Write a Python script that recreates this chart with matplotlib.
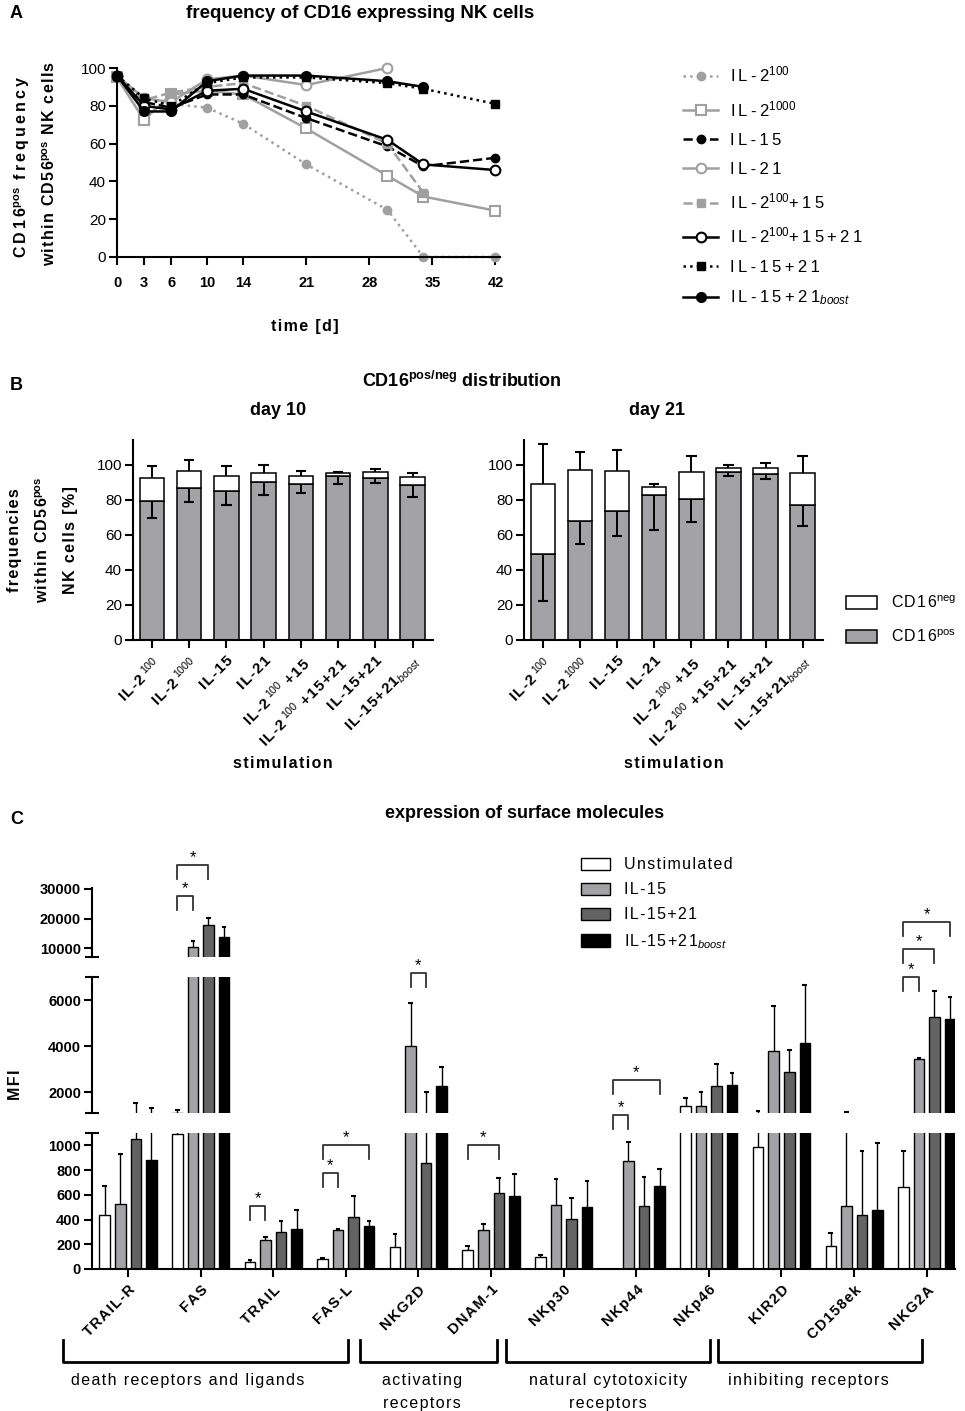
import matplotlib
matplotlib.use('Agg')
import matplotlib.pyplot as plt
import numpy as np
from matplotlib.patches import Patch

plt.rcParams['font.family'] = ['Liberation Sans', 'DejaVu Sans']
plt.rcParams['mathtext.fontset'] = 'custom'
plt.rcParams['mathtext.rm'] = 'Liberation Sans'
plt.rcParams['mathtext.it'] = 'Liberation Sans:italic'
plt.rcParams['mathtext.bf'] = 'Liberation Sans:bold'

nan = np.nan
# ---------------- Panel A data ----------------
days = [0, 3, 6, 10, 14, 21, 30, 34, 42]
il2_100 = [96, 84, 81, 79, 70.5, 49, 25, 0, 0]
il2_1000 = [95, 72.5, 86, 88, 86, 68, 43, 32, 24.5]
il15 = [96, 82, 79, 86, 86, 73.5, 58.5, 48, 52.5]
il21 = [96, 84, 82, 94, 96, 91, 100, nan, nan]
il2_100_15 = [95, 83, 87, 90, 92, 80, 60, 34, nan]
il2_100_15_21 = [96, 80, 78, 88, 89, 77, 62, 49, 46]
il15_21 = [96, 84, 80, 92, 95, 95, 92, 89, 81]
il15_21_boost = [96, 77, 77, 93, 96, 96, 93, 90, nan]
legend_A = [r'IL-2$^{100}$', r'IL-2$^{1000}$', 'IL-15', 'IL-21', r'IL-2$^{100}$+15',
            r'IL-2$^{100}$+15+21', 'IL-15+21', r'IL-15+21$_{\mathit{boost}}$']
day_ticks = [0, 3, 6, 10, 14, 21, 28, 35, 42]

# ---------------- Panel B data ----------------
stim_labels = [r'IL-2$^{\ 100}$', r'IL-2$^{\ 1000}$', 'IL-15', 'IL-21', r'IL-2$^{\ 100}$ +15',
               r'IL-2$^{\ 100}$ +15+21', 'IL-15+21', r'IL-15+21$_{\mathit{boost}}$']
d10_pos = [79.3, 86.6, 85.0, 90.2, 88.9, 93.3, 92.4, 88.3]
d10_pos_sd = [9.9, 7.8, 8.1, 7.6, 5.3, 4.5, 3.1, 6.7]
d10_total = [92.2, 96.2, 93.3, 95.2, 93.3, 95.0, 95.6, 92.7]
d10_total_sd = [6.8, 6.5, 6.1, 4.8, 2.9, 0.6, 1.9, 2.7]
d21_pos = [48.9, 68.0, 73.4, 82.8, 80.5, 95.8, 94.8, 77.2]
d21_pos_sd = [26.5, 13.4, 14.0, 20.2, 13.1, 2.5, 2.8, 12.1]
d21_total = [89.1, 96.7, 96.2, 87.2, 95.8, 98.1, 98.1, 95.4]
d21_total_sd = [22.9, 10.6, 12.0, 1.9, 9.2, 1.9, 2.9, 9.6]
legend_B = [r'CD16$^{\mathrm{neg}}$', r'CD16$^{\mathrm{pos}}$']

# ---------------- Panel C data ----------------
molecules = ['TRAIL-R', 'FAS', 'TRAIL', 'FAS-L', 'NKG2D', 'DNAM-1', 'NKp30', 'NKp44',
             'NKp46', 'KIR2D', 'CD158ek', 'NKG2A']
conditions_C = ['Unstimulated', 'IL-15', 'IL-15+21', r'IL-15+21$_{\mathit{boost}}$']
unstim = [439, 1089, 54, 79, 176, 154, 95, nan, 1415, 989, 190, 667]
unstim_sd = [230, 133, 19, 6, 109, 36, 19, nan, 323, 208, 103, 290]
c_il15 = [526, 10340, 236, 317, 3991, 317, 520, 873, 1415, 3773, 510, 3441]
c_il15_sd = [401, 1920, 19, 5, 1865, 49, 209, 151, 611, 1965, 643, 39]
c_il1521 = [1054, 17800, 303, 417, 854, 615, 404, 507, 2288, 2900, 439, 5258]
c_il1521_sd = [479, 2260, 87, 176, 1172, 117, 171, 238, 948, 917, 518, 1135]
c_boost = [881, 13730, 325, 344, 2288, 588, 501, 675, 2332, 4140, 480, 5157]
c_boost_sd = [429, 3390, 149, 46, 804, 179, 209, 133, 524, 2502, 542, 991]
# significance: (group, bar a, bar b)
sig_pairs = [(1, 0, 1), (1, 0, 2), (2, 0, 1), (3, 0, 1), (3, 0, 3), (4, 1, 2), (5, 0, 2),
             (7, 0, 1), (7, 0, 3), (11, 0, 1), (11, 0, 2), (11, 0, 3)]
sig_y_px = [895.7, 865, 1205.7, 1172.7, 1145, 972.7, 1145, 1115, 1080, 976.7, 949, 921.7]
categories = ['death receptors and ligands', 'activating\nreceptors',
              'natural cytotoxicity\nreceptors', 'inhibiting receptors']

GREY = '#a0a0a0'
BAR_GREY = '#a3a3a7'
DARK = '#636363'
THIN = '\u2009'
HAIR = '\u200a'


def sp(s, ch=THIN):
    """letter-spaced text (Prism style); math parts left intact"""
    lines = []
    for line in s.split('\n'):
        parts = line.split('$')
        out = []
        for i, p in enumerate(parts):
            out.append(ch.join(list(p)) if i % 2 == 0 else '$' + p + '$')
        lines.append(''.join(out))
    return '\n'.join(lines)


W, H = 965, 1411
fig = plt.figure(figsize=(W / 100, H / 100), dpi=100)


def ax_px(l, t, r, b):
    return fig.add_axes([l / W, 1 - b / H, (r - l) / W, (b - t) / H])


def ftext(x, y, s, **kw):
    fig.text(x / W, 1 - y / H, s, **kw)


def style_axes(ax, lw=1.5):
    for s in ['top', 'right']:
        ax.spines[s].set_visible(False)
    for s in ['left', 'bottom']:
        ax.spines[s].set_linewidth(lw)
    ax.tick_params(direction='out', length=6, width=lw, colors='black')


def err_line(ax, x, y0, y1, lw=1.1):
    ax.vlines(np.asarray(x, float), y0, y1, colors='black', lw=lw, zorder=3)


def err_cap(ax, x, y1, half, lw=1.4):
    x = np.asarray(x, float)
    ax.hlines(y1, x - half, x + half, colors='black', lw=lw, zorder=3)


# ================= Panel A =================
axA = ax_px(117, 68, 500, 257)
style_axes(axA)
series = [il2_100, il2_1000, il15, il21, il2_100_15, il2_100_15_21, il15_21, il15_21_boost]
styles = [
    dict(color=GREY, ls=':', marker='o', mfc=GREY, mec=GREY, ms=6),
    dict(color=GREY, ls='-', marker='s', mfc='white', mec=GREY, ms=7, mew=1.5),
    dict(color='black', ls='--', marker='o', mfc='black', mec='black', ms=6),
    dict(color=GREY, ls='-', marker='o', mfc='white', mec=GREY, ms=7, mew=1.5),
    dict(color=GREY, ls='--', marker='s', mfc=GREY, mec=GREY, ms=6),
    dict(color='black', ls='-', marker='o', mfc='white', mec='black', ms=7, mew=1.5),
    dict(color='black', ls=':', marker='s', mfc='black', mec='black', ms=6),
    dict(color='black', ls='-', marker='o', mfc='black', mec='black', ms=7),
]
handles = []
for vals, st in zip(series, styles):
    ln, = axA.plot(days, vals, lw=1.8, clip_on=False, **st)
    handles.append(ln)
axA.set_xlim(0, 42.5)
axA.set_ylim(0, 100)
axA.set_xticks(day_ticks)
axA.set_yticks([0, 20, 40, 60, 80, 100])
axA.tick_params(axis='y', labelsize=11, pad=2)
axA.tick_params(axis='x', labelsize=10.5, pad=8)
for t in axA.get_xticklabels():
    t.set_fontweight('bold')
fig.legend(handles=handles, labels=[sp(l) for l in legend_A], loc='upper left',
           bbox_to_anchor=(668 / W, 1 - 50 / H), frameon=False, fontsize=12,
           handlelength=2.1, labelspacing=0.85, handletextpad=0.7)

ftext(10, 14, 'A', fontsize=13, fontweight='bold', va='center')
ftext(360, 14, 'frequency of CD16 expressing NK cells', fontsize=13.5, fontweight='bold',
      ha='center', va='center')
ftext(22, 167, sp(r'CD16$^{\mathbf{pos}}$ frequency', THIN), fontsize=11.5, fontweight='bold',
      rotation=90, ha='center', va='center')
ftext(50, 163, sp(r'within CD56$^{\mathbf{pos}}$ NK cells', HAIR), fontsize=11.5,
      fontweight='bold', rotation=90, ha='center', va='center')
ftext(305, 327, sp('time [d]', HAIR), fontsize=11.5, fontweight='bold', ha='center', va='center')

# ================= Panel B =================
ftext(10, 385, 'B', fontsize=13, fontweight='bold', va='center')
ftext(462, 381, r'CD16$^{\mathbf{pos/neg}}$ distribution', fontsize=13, fontweight='bold',
      ha='center', va='center')


def panel_b(ax, pos, pos_sd, total, total_sd):
    style_axes(ax)
    x = np.arange(len(pos))
    pos = np.array(pos)
    total = np.array(total)
    neg = total - pos
    ax.bar(x, pos, width=0.66, color=BAR_GREY, edgecolor='black', lw=1.1, zorder=2)
    ax.bar(x, neg, bottom=pos, width=0.66, color='white', edgecolor='black', lw=1.1, zorder=2)
    lo = pos - np.array(pos_sd)
    hi = total + np.array(total_sd)
    err_line(ax, x, pos, lo, lw=1.4)
    err_cap(ax, x, lo, 0.14, lw=1.5)
    err_line(ax, x, total, hi, lw=1.4)
    err_cap(ax, x, hi, 0.14, lw=1.5)
    ax.set_xlim(-0.51, 7.55)
    ax.set_ylim(0, 114)
    ax.set_yticks([0, 20, 40, 60, 80, 100])
    ax.set_xticks(x)
    ax.set_xticklabels([sp(l, HAIR) for l in stim_labels], rotation=45, ha='right',
                       rotation_mode='anchor', fontsize=11, fontweight='bold')
    ax.tick_params(axis='y', labelsize=11, pad=2)
    ax.tick_params(axis='x', pad=4)
    ax.set_xlabel(sp('stimulation', HAIR), fontsize=11.5, fontweight='bold', labelpad=4)


axB1 = ax_px(133, 440, 433, 640)
panel_b(axB1, d10_pos, d10_pos_sd, d10_total, d10_total_sd)
axB2 = ax_px(524, 440, 823, 640)
panel_b(axB2, d21_pos, d21_pos_sd, d21_total, d21_total_sd)
ftext(278, 411, 'day 10', fontsize=13, fontweight='bold', ha='center', va='center')
ftext(657, 411, 'day 21', fontsize=13, fontweight='bold', ha='center', va='center')
ftext(15, 540, sp('frequencies', HAIR), fontsize=11.5, fontweight='bold', rotation=90,
      ha='center', va='center')
ftext(43, 540, sp(r'within CD56$^{\mathbf{pos}}$', HAIR), fontsize=11.5, fontweight='bold',
      rotation=90, ha='center', va='center')
ftext(70, 540, sp('NK cells [%]', HAIR), fontsize=11.5, fontweight='bold', rotation=90,
      ha='center', va='center')
hB = [Patch(facecolor='white', edgecolor='black', lw=1.1),
      Patch(facecolor=BAR_GREY, edgecolor='black', lw=1.1)]
fig.legend(handles=hB, labels=[sp(l, HAIR) for l in legend_B],
           loc='upper left', bbox_to_anchor=(832 / W, 1 - 580 / H), frameon=False,
           fontsize=11.5, handlelength=1.9, handleheight=0.9, labelspacing=1.1,
           handletextpad=0.9)

# ================= Panel C =================
ftext(10, 820, 'C', fontsize=13, fontweight='bold', va='center')
ftext(525, 814, 'expression of surface molecules', fontsize=13, fontweight='bold',
      ha='center', va='center')
ftext(15, 1085, sp('MFI', HAIR), fontsize=11.5, fontweight='bold', rotation=90,
      ha='center', va='center')

axT = ax_px(92, 888, 955, 957)
axM = ax_px(92, 977, 955, 1113)
axL = ax_px(92, 1133, 955, 1269)
seg_lims = [(7000, 30300), (1100, 7000), (0, 1100)]
seg_ticks = [[10000, 20000, 30000], [2000, 4000, 6000], [0, 200, 400, 600, 800, 1000]]
cond_vals = [unstim, c_il15, c_il1521, c_boost]
cond_sd = [unstim_sd, c_il15_sd, c_il1521_sd, c_boost_sd]
cond_cols = ['white', BAR_GREY, DARK, 'black']
offs = np.array([-1.5, -0.5, 0.5, 1.5]) * 0.214
bw = 0.145
gx = np.arange(len(molecules))
XL = (-0.496, 11.39)

for ax, lim, tks in zip([axT, axM, axL], seg_lims, seg_ticks):
    style_axes(ax)
    for vals, sds, col, off in zip(cond_vals, cond_sd, cond_cols, offs):
        v = np.array(vals, float)
        s = np.array(sds, float)
        m = ~np.isnan(v)
        ax.bar(gx[m] + off, v[m], width=bw, color=col, edgecolor='black', lw=1.0, zorder=2)
        top = v + s
        err_line(ax, gx[m] + off, v[m], top[m], lw=1.0)
        # caps only where they fall inside this segment
        mm = m & (top > lim[0]) & (top < lim[1])
        err_cap(ax, gx[mm] + off, top[mm], 0.032, lw=1.5)
    ax.set_xlim(*XL)
    ax.set_ylim(*lim)
    ax.set_yticks(tks)
    ax.tick_params(axis='y', labelsize=10.5, pad=2)
    for t in ax.get_yticklabels():
        t.set_fontweight('bold')
    if ax is not axL:
        ax.spines['bottom'].set_visible(False)
        ax.set_xticks([])
for ax, ends in [(axT, [0]), (axM, [0, 1]), (axL, [1])]:
    for e in ends:
        ax.plot([-0.008, 0.008], [e, e], transform=ax.transAxes, color='black', lw=1.5,
                clip_on=False, solid_capstyle='butt')
axL.set_xticks(gx)
axL.set_xticklabels([sp(m, HAIR) for m in molecules], rotation=45, ha='right',
                    rotation_mode='anchor', fontsize=10.5, fontweight='bold')
axL.tick_params(axis='x', pad=4)

hC = [Patch(facecolor=c, edgecolor='black', lw=1.0) for c in cond_cols]
fig.legend(handles=hC, labels=[sp(c, HAIR) for c in conditions_C], loc='upper left',
           bbox_to_anchor=(567 / W, 1 - 843 / H), frameon=False, fontsize=11.5,
           handlelength=1.8, handleheight=0.8, labelspacing=0.62, handletextpad=0.9)

# overlay in pixel coordinates for annotations
ov = fig.add_axes([0, 0, 1, 1])
ov.set_xlim(0, W)
ov.set_ylim(H, 0)
ov.axis('off')


def bar_px(g, k):
    xd = g + offs[k]
    return 92 + (xd - XL[0]) / (XL[1] - XL[0]) * (955 - 92)


for (g, a, b), yt in zip(sig_pairs, sig_y_px):
    x1, x2 = bar_px(g, a), bar_px(g, b)
    ov.plot([x1, x1, x2, x2], [yt + 14, yt, yt, yt + 14], color='#333333', lw=1.3)
    ov.text((x1 + x2) / 2, yt - 7, '*', ha='center', va='center', fontsize=12)

cat_spans = [(63, 348), (360, 497), (506, 710), (718, 922)]
cat_text_x = [188, 422, 608, 808]
for (x1, x2), tx, lab in zip(cat_spans, cat_text_x, categories):
    ov.plot([x1, x1, x2, x2], [1340, 1362, 1362, 1340], color='black', lw=2)
    ty = 1392 if '\n' in lab else 1381
    ov.text(tx, ty, sp(lab, HAIR), ha='center', va='center', fontsize=11.5, linespacing=1.6)

fig.savefig('out.png', dpi=100)
